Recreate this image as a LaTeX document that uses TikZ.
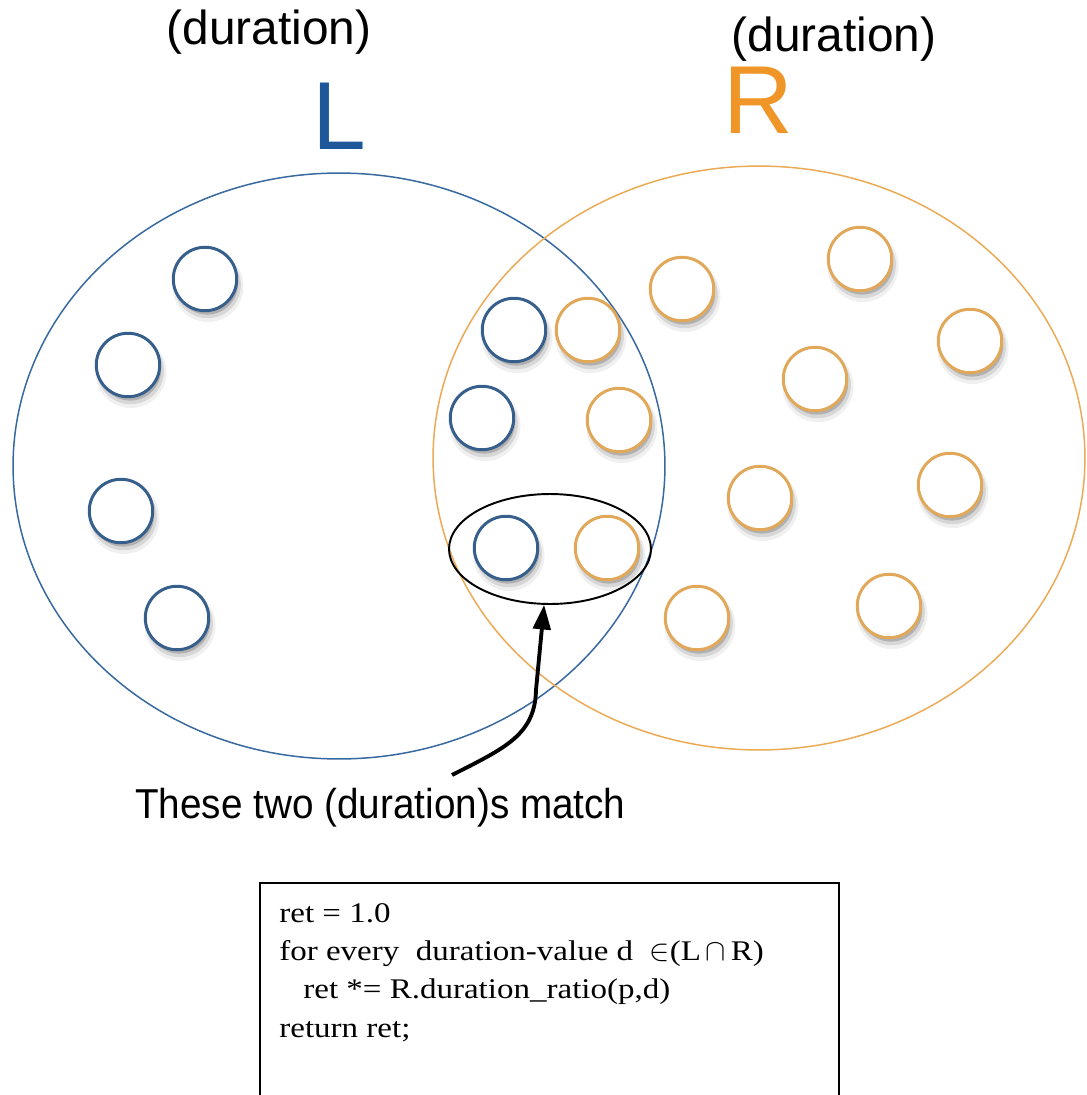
\documentclass[tikz,border=0pt]{standalone}
\usepackage{fontspec}
\setmainfont{Liberation Serif}
\setsansfont{Liberation Sans}
\newfontfamily\codefont[FakeStretch=1.16]{Liberation Serif}
\newfontfamily\notefont[FakeStretch=0.925]{Liberation Sans}
\usetikzlibrary{shapes.geometric,arrows.meta,shadows}
\definecolor{lblue}{RGB}{30,88,155}
\definecolor{lring}{RGB}{55,105,160}
\definecolor{rorange}{RGB}{240,150,40}
\definecolor{rring}{RGB}{235,170,85}
\definecolor{dotblue}{RGB}{55,95,140}
\definecolor{dotorange}{RGB}{225,168,90}
\tikzset{
  toplabel/.style={font=\sffamily\fontsize{27.2}{30}\selectfont, inner sep=0pt},
  biglabel/.style={font=\sffamily\fontsize{55}{60}\selectfont, inner sep=0pt},
  bottomlabel/.style={font=\notefont\fontsize{23.8}{28}\selectfont, inner sep=0pt},
  codeline/.style={font=\codefont\fontsize{16.2}{20}\selectfont, inner sep=0pt, anchor=base west},
  bigset/.style={ellipse, draw, line width=0.85pt, inner sep=0pt},
  softshadow/.style={
    drop shadow={shadow xshift=1.5pt, shadow yshift=-3.8pt, shadow scale=1.12, opacity=.12},
    drop shadow={shadow xshift=1.4pt, shadow yshift=-3.2pt, shadow scale=1.05, opacity=.22},
    drop shadow={shadow xshift=1.2pt, shadow yshift=-2.6pt, shadow scale=0.98, opacity=.45}},
  dot/.style={circle, minimum size=1.27cm, inner sep=0pt, line width=1.7pt, fill=white, softshadow},
  ldot/.style={dot, draw=dotblue},
  rdot/.style={dot, draw=dotorange},
  pointer/.style={line width=2.2pt, -{Triangle[length=14pt, width=10pt]}}
}
\begin{document}
\begin{tikzpicture}[x=0.02cm, y=-0.02cm]
\useasboundingbox (0,0) rectangle (1087,1095);
% titles
\node[toplabel, anchor=base] (durL) at (269,45) {(duration)};
\node[toplabel, anchor=base] (durR) at (834,52) {(duration)};
\node[biglabel, text=lblue, anchor=base] (labL) at (339,150) {L};
\node[biglabel, text=rorange, anchor=base] (labR) at (758,133) {R};
% big sets
\node[bigset, draw=lring, minimum width=13.04cm, minimum height=11.72cm] (setL) at (339,466) {};
\node[bigset, draw=rring, minimum width=13.04cm, minimum height=11.68cm] (setR) at (759,458) {};
% L elements
\node[ldot] (l1) at (205,279) {};
\node[ldot] (l2) at (128,365) {};
\node[ldot] (l3) at (121,511) {};
\node[ldot] (l4) at (177,618) {};
\node[ldot] (l5) at (514,330) {};
\node[ldot] (l6) at (482,418) {};
\node[ldot] (l7) at (506,548) {};
% R elements
\node[rdot] (r1) at (588,330) {};
\node[rdot] (r2) at (682,289) {};
\node[rdot] (r3) at (860,259) {};
\node[rdot] (r4) at (970,341) {};
\node[rdot] (r5) at (815,379) {};
\node[rdot] (r6) at (619,420) {};
\node[rdot] (r7) at (760,498) {};
\node[rdot] (r8) at (950,485) {};
\node[rdot] (r9) at (607,548) {};
\node[rdot] (r10) at (697,618) {};
\node[rdot] (r11) at (889,606) {};
% matching pair
\node[ellipse, draw, line width=1.1pt, minimum width=4.04cm, minimum height=2.2cm, inner sep=0pt] (match) at (550,549) {};
% annotation
\node[bottomlabel, anchor=base west] (note) at (135,818) {These two (duration)s match};
\coordinate (tail) at (452,775);
\draw[pointer] (tail) .. controls (505,748) and (535,735) .. (536,690) -- (match.-96);
% code box
\node[draw, line width=1.1pt, minimum width=11.58cm, minimum height=4.6cm, anchor=north west, inner sep=0pt] (box) at (259,882) {};
\node[codeline] (c1) at (279,922) {ret = 1.0};
\node[codeline] (c2) at (279,960) {for every\ \ duration-value d\ \ \(\in\)(L\,\(\cap\)\,R)};
\node[codeline] (c3) at (303,998) {ret *= R.duration\_ratio(p,d)};
\node[codeline] (c4) at (279,1037) {return ret;};
\end{tikzpicture}
\end{document}
